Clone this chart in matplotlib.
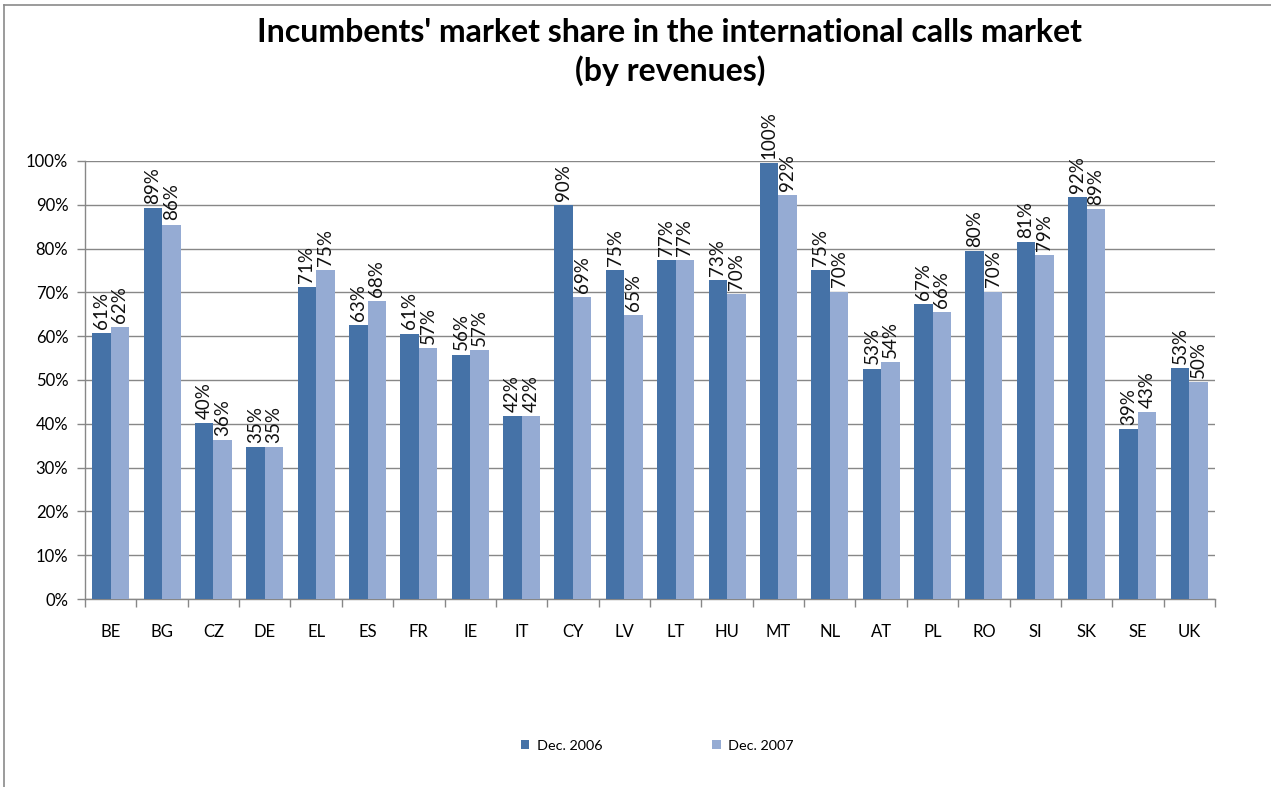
import matplotlib
matplotlib.use('Agg')
import matplotlib.pyplot as plt
import numpy as np
from matplotlib.lines import Line2D
from matplotlib.ticker import PercentFormatter

countries = ['BE', 'BG', 'CZ', 'DE', 'EL', 'ES', 'FR', 'IE', 'IT', 'CY', 'LV',
             'LT', 'HU', 'MT', 'NL', 'AT', 'PL', 'RO', 'SI', 'SK', 'SE', 'UK']
dec_2006 = [60.7, 89.3, 40.2, 34.6, 71.2, 62.6, 60.6, 55.8, 41.8, 90.0, 75.0,
            77.3, 72.8, 99.6, 75.0, 52.6, 67.3, 79.5, 81.4, 91.7, 38.8, 52.8]
dec_2007 = [62.0, 85.5, 36.3, 34.6, 75.0, 68.0, 57.3, 56.8, 41.8, 69.0, 64.8,
            77.3, 69.6, 92.2, 70.2, 54.1, 65.5, 70.2, 78.6, 89.0, 42.7, 49.6]

col06 = '#4572A7'
col07 = '#95ABD3'
grid = '#878787'

plt.rcParams['font.family'] = ['Lato', 'DejaVu Sans']

fig = plt.figure(figsize=(12.71, 7.87), dpi=100)
ax = fig.add_axes([85 / 1271, 1 - 599 / 787, 1130 / 1271, 438 / 787])

x = np.arange(len(countries))
w = 0.36
b1 = ax.bar(x - w / 2, dec_2006, w, color=col06, label='Dec. 2006', zorder=3)
b2 = ax.bar(x + w / 2, dec_2007, w, color=col07, label='Dec. 2007', zorder=3)

for bars, vals in [(b1, dec_2006), (b2, dec_2007)]:
    for r, v in zip(bars, vals):
        ax.annotate('%d%%' % round(v), (r.get_x() + r.get_width() / 2, v),
                    xytext=(0, 3), textcoords='offset points', rotation=90,
                    ha='center', va='bottom', fontsize=13.5, color='#111111')

ax.set_xlim(-0.5, len(countries) - 0.5)
ax.set_ylim(0, 100)
ax.set_yticks(np.arange(0, 101, 10))
ax.yaxis.set_major_formatter(PercentFormatter(decimals=0))
ax.grid(axis='y', color=grid, linewidth=1, zorder=0)
ax.set_xticks(x)
ax.set_xticklabels(countries)
ax.set_xticks(np.arange(-0.5, len(countries), 1), minor=True)
ax.tick_params(axis='x', which='major', length=0, pad=18, labelsize=12)
ax.tick_params(axis='x', which='minor', length=6, color=grid, width=1)
ax.tick_params(axis='y', length=6, color=grid, width=1, labelsize=12, pad=6)
for s in ['top', 'right']:
    ax.spines[s].set_visible(False)
for s in ['left', 'bottom']:
    ax.spines[s].set_color(grid)
    ax.spines[s].set_linewidth(1)

fig.text(0.527, 1 - 52 / 787, "Incumbents' market share in the international calls market\n(by revenues)",
         ha='center', va='center', fontsize=23, fontweight='bold', linespacing=1.3)

fig.legend(handles=[b1, b2], labels=['Dec. 2006', 'Dec. 2007'], loc='center',
           bbox_to_anchor=(0.517, 1 - 746 / 787), ncol=2, frameon=False,
           fontsize=10.4, handlelength=0.6, handleheight=0.6, columnspacing=7.6,
           handletextpad=0.5)

fig.add_artist(Line2D([4 / 1271, 4 / 1271], [0, 1 - 4.5 / 787], color='#8a8a8a', lw=1.2))
fig.add_artist(Line2D([4 / 1271, 1], [1 - 4.5 / 787, 1 - 4.5 / 787], color='#8a8a8a', lw=1.2))

fig.savefig('out.png', dpi=100)
